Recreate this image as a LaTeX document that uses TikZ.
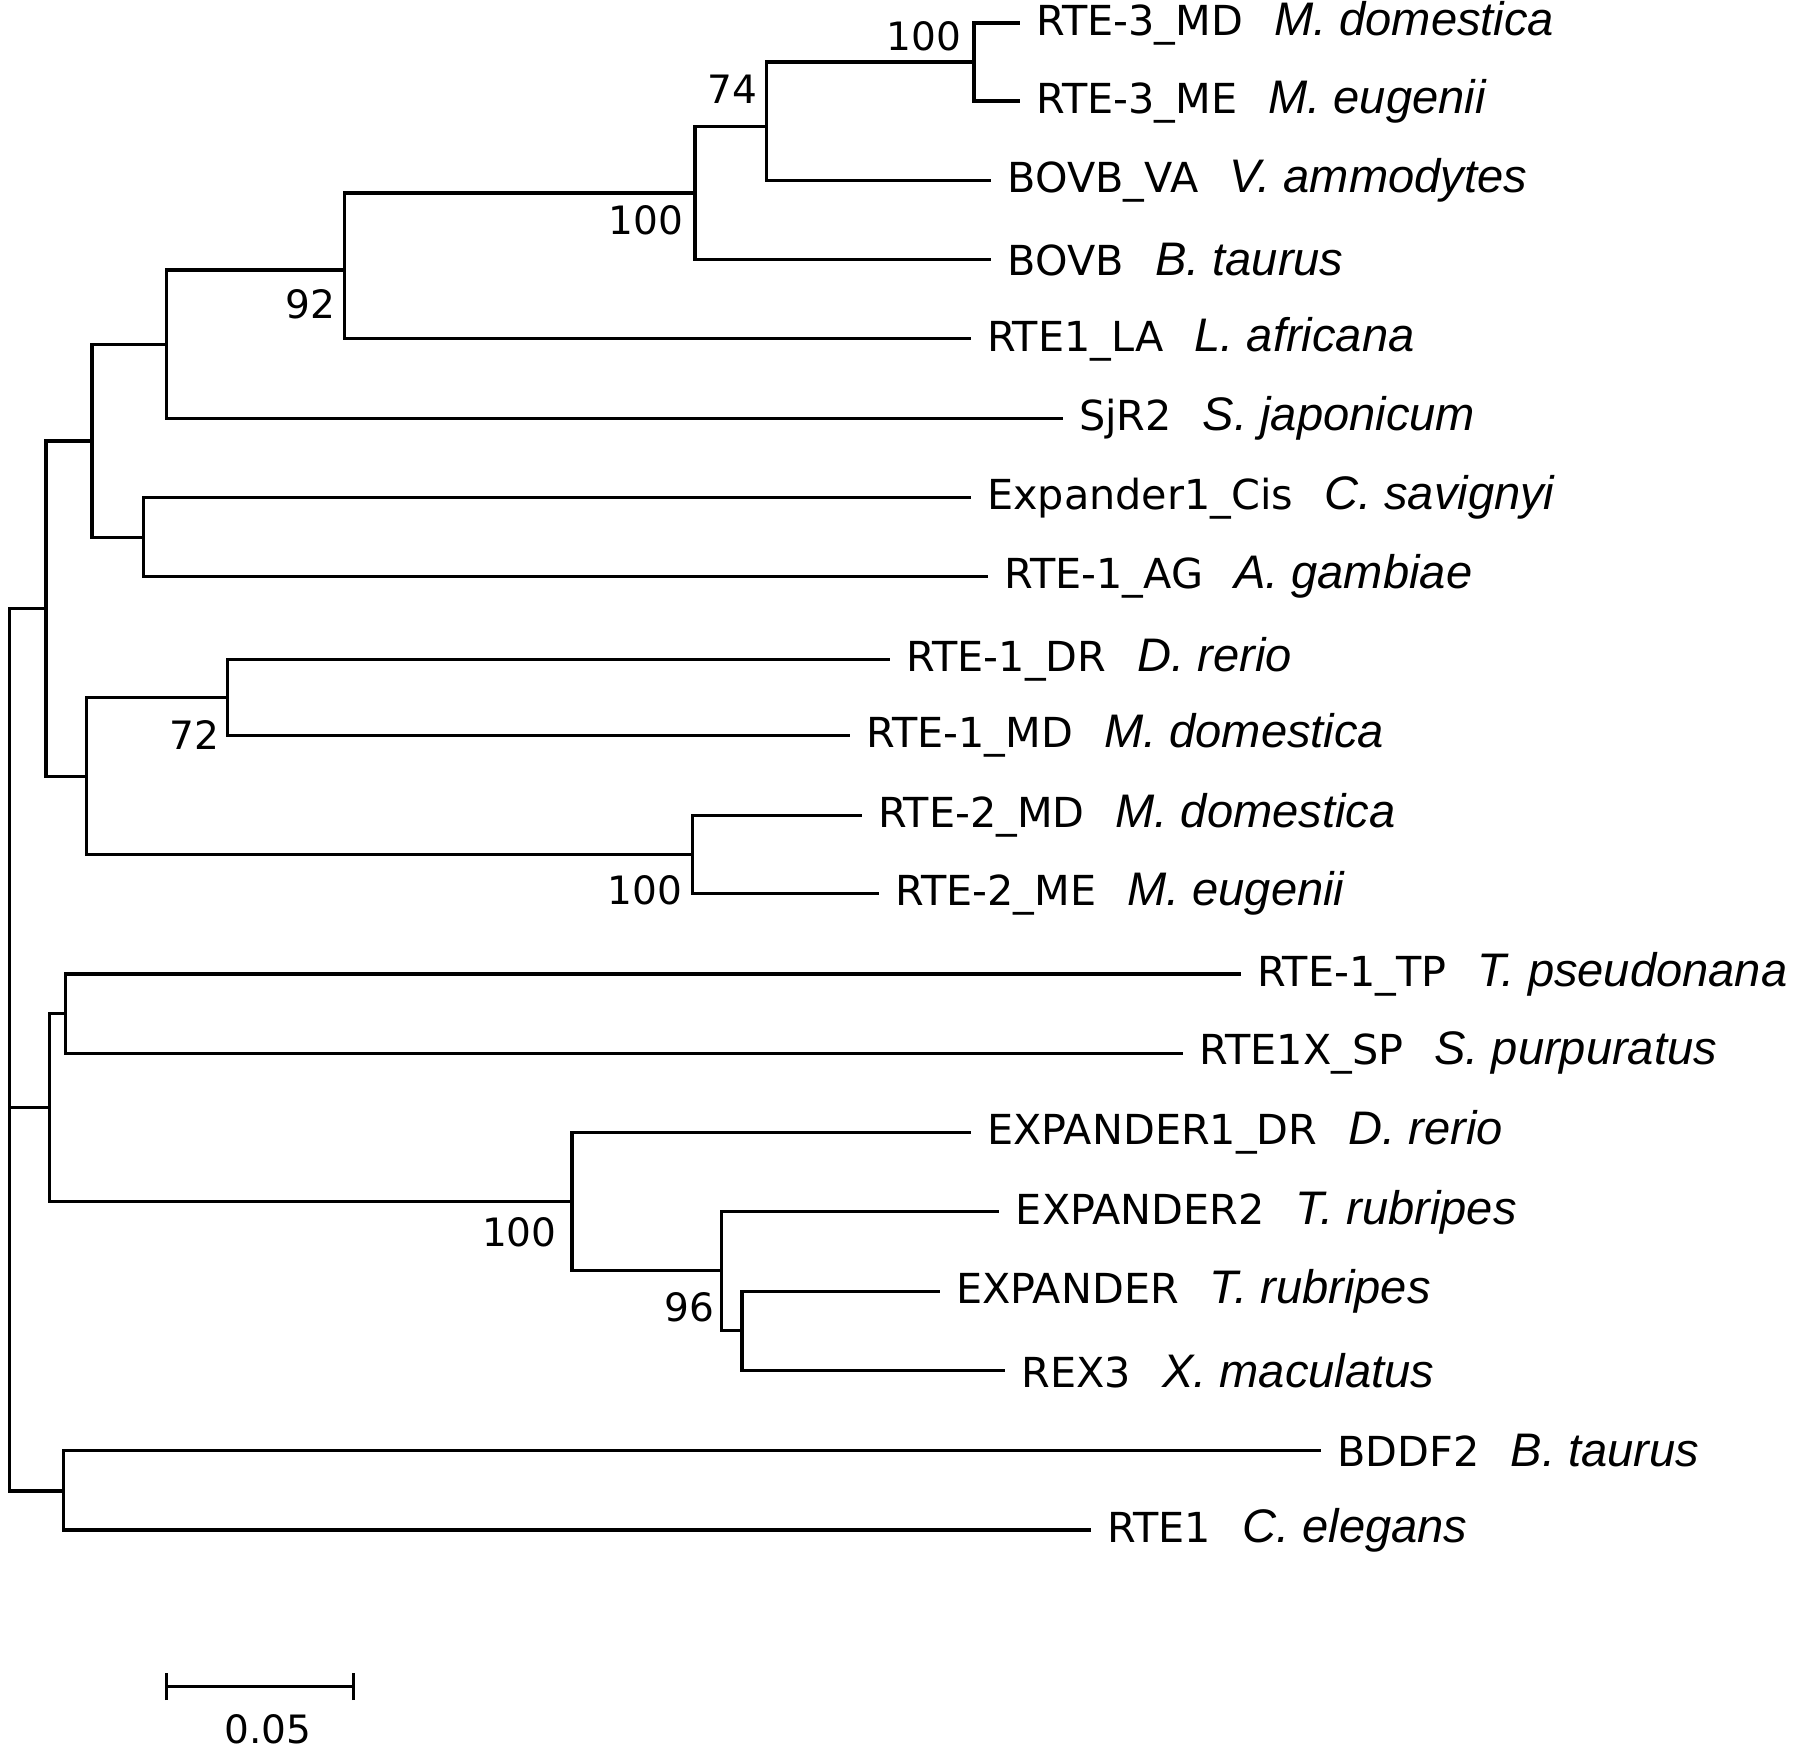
\documentclass[tikz,border=0pt]{standalone}
\usepackage{fontspec}
\setmainfont{DejaVu Sans}
\newfontfamily\spfont{Liberation Sans}
\begin{document}
\begin{tikzpicture}[x=1pt,y=-1pt,line width=2.8pt,
  leaf/.style={anchor=west,inner sep=0pt,font=\fontsize{36}{40}\selectfont},
  boot/.style={inner sep=0pt,font=\fontsize{34}{38}\selectfont}]
\useasboundingbox (0,0) rectangle (1567,1524);
\newcommand{\spc}[1]{\hspace{0.75em}{\spfont\fontsize{41}{44}\selectfont\itshape #1}}
\foreach \nm/\y/\xe/\txt in {
 a/20/888/{RTE-3\_MD\spc{M. domestica}},
 b/88/888/{RTE-3\_ME\spc{M. eugenii}},
 c/157/863/{BOVB\_VA\spc{V. ammodytes}},
 d/226/863/{BOVB\spc{B. taurus}},
 e/295/845/{RTE1\_LA\spc{L. africana}},
 f/364/925/{SjR2\spc{S. japonicum}},
 g/433/845/{Expander1\_Cis\spc{C. savignyi}},
 h/502/860/{RTE-1\_AG\spc{A. gambiae}},
 i/574/775/{RTE-1\_DR\spc{D. rerio}},
 j/640/740/{RTE-1\_MD\spc{M. domestica}},
 k/710/750/{RTE-2\_MD\spc{M. domestica}},
 l/778/765/{RTE-2\_ME\spc{M. eugenii}},
 m/848/1080/{RTE-1\_TP\spc{T. pseudonana}},
 n/917/1030/{RTE1X\_SP\spc{S. purpuratus}},
 o/986/845/{EXPANDER1\_DR\spc{D. rerio}},
 p/1055/870/{EXPANDER2\spc{T. rubripes}},
 q/1124/818/{EXPANDER\spc{T. rubripes}},
 r/1193/875/{REX3\spc{X. maculatus}},
 s/1263/1150/{BDDF2\spc{B. taurus}},
 t/1332/950/{RTE1\spc{C. elegans}}}
 {\coordinate (\nm) at (\xe,\y);
  \node[leaf] (L\nm) at ([xshift=13pt]\nm) {\txt};}
\coordinate (n1) at (848,54);
\coordinate (n2) at (667,110);
\coordinate (n3) at (605,168);
\coordinate (n4) at (300,235);
\coordinate (n5) at (145,300);
\coordinate (n6) at (125,468);
\coordinate (n7) at (80,384);
\coordinate (n8) at (198,607);
\coordinate (n9) at (603,744);
\coordinate (n10) at (75,676);
\coordinate (n11) at (40,530);
\coordinate (n12) at (57,882);
\coordinate (n13) at (646,1158);
\coordinate (n14) at (628,1106);
\coordinate (n15) at (498,1046);
\coordinate (n16) at (43,964);
\coordinate (n18) at (55,1298);
\coordinate (root) at (8,964);
\newcommand{\br}[2]{\draw (#1) |- (#2);}
\br{n1}{a}\br{n1}{b}
\br{n2}{n1}\br{n2}{c}
\br{n3}{n2}\br{n3}{d}
\br{n4}{n3}\br{n4}{e}
\br{n5}{n4}\br{n5}{f}
\br{n6}{g}\br{n6}{h}
\br{n7}{n5}\br{n7}{n6}
\br{n8}{i}\br{n8}{j}
\br{n9}{k}\br{n9}{l}
\br{n10}{n8}\br{n10}{n9}
\br{n11}{n7}\br{n11}{n10}
\br{n12}{m}\br{n12}{n}
\br{n13}{q}\br{n13}{r}
\br{n14}{p}\br{n14}{n13}
\br{n15}{o}\br{n15}{n14}
\br{n16}{n12}\br{n16}{n15}
\br{n18}{s}\br{n18}{t}
\br{root}{n11}\br{root}{n16}\br{root}{n18}
\node[boot,anchor=east] (b1) at (838,32) {100};
\node[boot,anchor=east] (b2) at (661,78) {74};
\node[boot,anchor=east] (b3) at (596,192) {100};
\node[boot,anchor=east] (b4) at (293,265) {92};
\node[boot,anchor=east] (b5) at (192,640) {72};
\node[boot,anchor=east] (b6) at (595,775) {100};
\node[boot,anchor=east] (b7) at (486,1073) {100};
\node[boot,anchor=east] (b8) at (623,1138) {96};
\coordinate (s1) at (145,1468);
\coordinate (s2) at (308,1468);
\draw (s1) -- (s2);
\draw ([yshift=-12pt]s1) -- ([yshift=12pt]s1);
\draw ([yshift=-12pt]s2) -- ([yshift=12pt]s2);
\node[boot] (sc) at (233,1505) {0.05};
\end{tikzpicture}
\end{document}
